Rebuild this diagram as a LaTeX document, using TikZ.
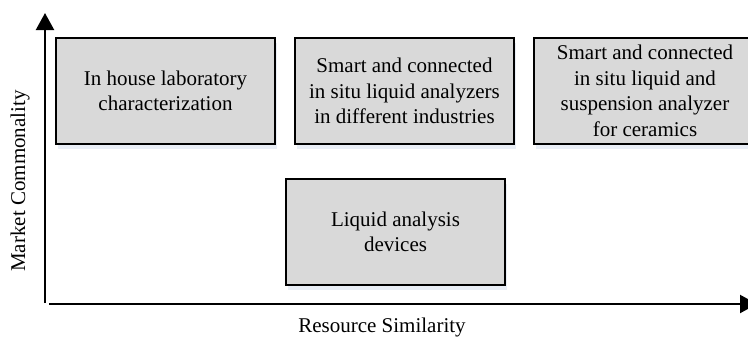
\documentclass[tikz,border=0pt]{standalone}
\usepackage{fontspec}
\setmainfont{Liberation Serif}
\usetikzlibrary{arrows.meta,shadows}
\definecolor{boxgray}{HTML}{D9D9D9}
\definecolor{shadowblue}{HTML}{E4EAF4}
\tikzset{
  quad/.style={draw=black, line width=1.4pt, fill=boxgray, minimum width=219pt, minimum height=106pt,
    inner sep=0pt, align=center, font=\fontsize{21}{25.5}\selectfont,
    drop shadow={shadow xshift=2pt, shadow yshift=-5pt, fill=shadowblue, opacity=0.8}},
  axis/.style={line width=2.2pt, -{Triangle[length=17pt,width=18pt]}},
  axlabel/.style={font=\fontsize{21}{25}\selectfont, inner sep=0pt}
}
\begin{document}
\begin{tikzpicture}[x=1pt,y=-1pt]
\useasboundingbox (0,0) rectangle (748,338);
\clip (0,0) rectangle (748,338);
\coordinate (yo) at (45,303);
\coordinate (yt) at (45,13);
\coordinate (xo) at (49,304);
\coordinate (xt) at (757,304);
\node[quad] (b1) at (165.5,91) {In house laboratory\\characterization};
\node[quad] (b2) at (404.5,91) {Smart and connected\\in situ liquid analyzers\\in different industries};
\node[quad, minimum width=222pt] (b3) at (645,91) {Smart and connected\\in situ liquid and\\suspension analyzer\\for ceramics};
\node[quad] (b4) at (395.5,232) {Liquid analysis\\devices};
\draw[axis] (yo) -- (yt);
\draw[axis] (xo) -- (xt);
\node[axlabel, rotate=90] (ly) at (20,181) {Market Commonality};
\node[axlabel] (lx) at (382,327) {Resource Similarity};
\end{tikzpicture}
\end{document}
